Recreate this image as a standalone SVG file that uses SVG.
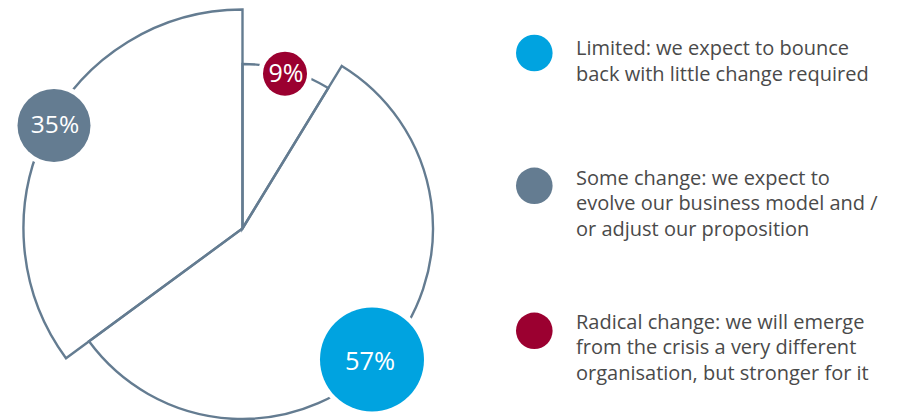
<svg xmlns="http://www.w3.org/2000/svg" width="899" height="420" viewBox="0 0 899 420">
<style>
.slice{fill:none;stroke:#647c91;stroke-width:2.4;stroke-linejoin:miter}
.gap{fill:#ffffff}
.val{font-family:"Open Sans","Noto Sans",sans-serif;fill:#ffffff;text-anchor:middle}
.leg{font-family:"Open Sans","Noto Sans",sans-serif;font-size:20px;fill:#4a4a4a}
.blue{fill:#00a3e0}.slate{fill:#647c91}.red{fill:#9b0030}
</style>
<rect width="899" height="420" fill="#ffffff"/>
<g id="pie">
<path id="slice-35" class="slice" d="M242.5,228.5 L242.5,9.5 A219,219 0 0 0 66,358.2 Z"/>
<path id="slice-57" class="slice" d="M242.5,228.5 L341.8,65.9 A190.5,190.5 0 1 1 89,341.3 Z"/>
<path id="slice-9" class="slice" d="M242.5,228.5 L242.5,64 A164.5,164.5 0 0 1 328.2,88.1 Z"/>
</g>
<g id="badge-35">
<circle class="gap" cx="54" cy="125.5" r="41.5"/>
<circle class="slate" cx="54" cy="125.5" r="36.5"/>
<text class="val" x="55" y="133" font-size="24.5">35%</text>
</g>
<g id="badge-9">
<circle class="gap" cx="285" cy="73.7" r="27"/>
<circle class="red" cx="285" cy="73.7" r="22"/>
<text class="val" x="286" y="82" font-size="25">9%</text>
</g>
<g id="badge-57">
<circle class="gap" cx="372" cy="359.5" r="57"/>
<circle class="blue" cx="372" cy="359.5" r="52"/>
<text class="val" x="370" y="370" font-size="25.5">57%</text>
</g>
<g id="legend-limited">
<circle class="blue" cx="534.3" cy="53" r="18.3"/>
<text class="leg"><tspan x="576" y="55">Limited: we expect to bounce</tspan><tspan x="576" y="81">back with little change required</tspan></text>
</g>
<g id="legend-some">
<circle class="slate" cx="534.3" cy="185.8" r="18.3"/>
<text class="leg"><tspan x="576" y="185">Some change: we expect to</tspan><tspan x="576" y="210">evolve our business model and /</tspan><tspan x="576" y="236">or adjust our proposition</tspan></text>
</g>
<g id="legend-radical">
<circle class="red" cx="534.3" cy="330.8" r="18.3"/>
<text class="leg"><tspan x="576" y="329">Radical change: we will emerge</tspan><tspan x="576" y="354">from the crisis a very different</tspan><tspan x="576" y="380">organisation, but stronger for it</tspan></text>
</g>
</svg>
